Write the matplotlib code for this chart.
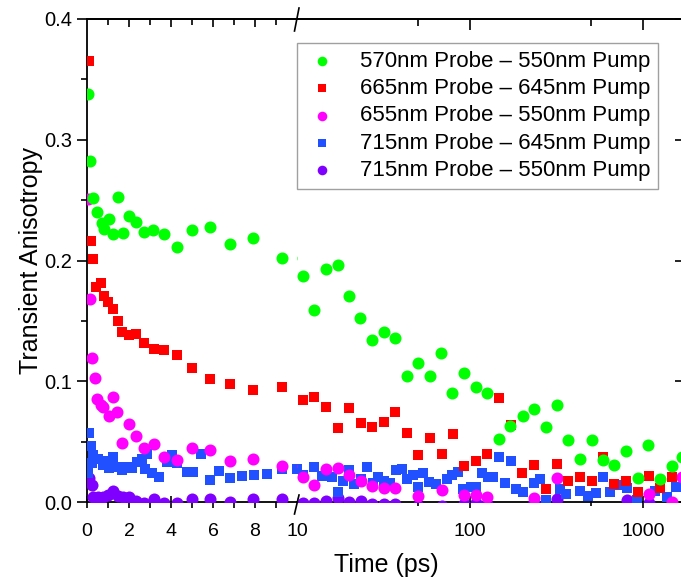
import matplotlib
matplotlib.use("Agg")
from matplotlib import pyplot as plt
from matplotlib.lines import Line2D
from matplotlib.ticker import FixedLocator, NullFormatter

plt.rcParams['font.family'] = ['Liberation Sans', 'DejaVu Sans']

##### Data (time in ps, anisotropy)
green_t = [0.06, 0.14, 0.30, 0.49, 0.70, 0.81, 1.06, 1.22, 1.49, 1.70, 2.00, 2.35, 2.71, 3.16, 3.68,
           4.27, 5.01, 5.86, 6.81, 7.92, 9.27, 10.8, 12.6, 14.7, 17.2, 20.0, 23.1, 27.0, 31.8, 36.9,
           43.0, 49.9, 58.7, 67.9, 79.0, 92.7, 108, 126, 147, 170, 202, 234, 274, 317, 370,
           432, 505, 585, 683, 798, 931, 1073, 1253, 1465, 1675]
green_y = [0.338, 0.282, 0.252, 0.240, 0.231, 0.226, 0.234, 0.222, 0.253, 0.223, 0.237, 0.232, 0.224, 0.225, 0.222,
           0.211, 0.225, 0.228, 0.214, 0.219, 0.202, 0.187, 0.159, 0.193, 0.196, 0.171, 0.152, 0.134, 0.1405, 0.1356,
           0.104, 0.115, 0.104, 0.123, 0.0905, 0.107, 0.095, 0.090, 0.052, 0.063, 0.0715, 0.077, 0.062, 0.080, 0.051,
           0.036, 0.051, 0.035, 0.031, 0.0425, 0.020, 0.047, 0.019, 0.030, 0.037]

red_t = [0.11, 0.19, 0.27, 0.43, 0.65, 0.81, 1.02, 1.25, 1.49, 1.68, 2.00, 2.33, 2.71, 3.19, 3.68,
         4.27, 5.01, 5.86, 6.81, 7.92, 9.27, 10.8, 12.5, 14.7, 17.2, 20.0, 23.3, 27.2, 31.8, 36.9,
         43.0, 50.2, 58.7, 68.6, 79.3, 92.2, 108, 125, 147, 172, 201, 234, 274, 317, 370,
         432, 505, 589, 683, 798, 931, 1083, 1253, 1465]
red_y = [0.365, 0.216, 0.201, 0.178, 0.181, 0.171, 0.166, 0.160, 0.150, 0.141, 0.138, 0.139, 0.132, 0.127, 0.126,
         0.122, 0.111, 0.102, 0.098, 0.093, 0.095, 0.0845, 0.087, 0.079, 0.061, 0.0776, 0.0657, 0.062, 0.0665, 0.0743,
         0.0574, 0.039, 0.0527, 0.0395, 0.056, 0.030, 0.034, 0.040, 0.086, 0.064, 0.024, 0.031, 0.0105, 0.0315, 0.0176,
         0.021, 0.0174, 0.037, 0.015, 0.017, 0.0085, 0.0215, 0.012, 0.021]

mag_t = [0.06, 0.14, 0.25, 0.38, 0.49, 0.65, 0.78, 1.06, 1.25, 1.44, 1.68, 2.00, 2.33, 2.71, 3.19,
         3.68, 4.27, 5.01, 5.86, 6.81, 7.92, 9.27, 10.8, 12.5, 14.7, 17.2, 20.0, 23.3, 27.2, 31.8,
         36.9, 50.2, 68.6, 92.2, 108, 125, 234, 317, 1083, 1465, 1690]
mag_y = [0.2507, 0.168, 0.119, 0.103, 0.085, 0.080, 0.079, 0.0715, 0.087, 0.0743, 0.049, 0.065, 0.055, 0.0445, 0.048,
         0.037, 0.035, 0.045, 0.043, 0.034, 0.036, 0.030, 0.021, 0.014, 0.027, 0.028, 0.022, 0.017, 0.013, 0.012,
         0.012, 0.005, 0.010, 0.006, 0.006, 0.004, 0.003, 0.0196, 0.007, 0.0, 0.021]

blue_t = [0.06, 0.11, 0.17, 0.22, 0.30, 0.54, 0.75, 0.94, 1.06, 1.25, 1.44, 1.65, 1.89, 2.13, 2.37,
          2.60, 2.76, 2.87, 3.08, 3.43, 3.80, 4.03, 4.27, 4.75, 5.06, 5.43, 5.86, 6.30, 6.81, 7.37,
          7.95, 8.59, 9.27, 9.98, 10.9, 12.5, 14.0, 15.9, 17.2, 18.5, 20.0, 21.4, 23.4, 25.3, 27.4,
          29.5, 31.9, 34.5, 37.3, 40.2, 43.0, 46.6, 50.2, 53.6, 58.1, 63.2, 73.3, 79.0, 85.5, 91.5,
          102, 109, 118, 127, 136, 147, 159, 172, 184, 203, 233, 254, 276, 330, 360,
          432, 481, 538, 589, 643, 734, 804, 919, 1172, 1370, 1560]
blue_y = [0.024, 0.057, 0.046, 0.032, 0.039, 0.036, 0.031, 0.034, 0.028, 0.037, 0.029, 0.0265, 0.029, 0.028, 0.033,
          0.036, 0.027, 0.040, 0.024, 0.021, 0.033, 0.039, 0.032, 0.025, 0.025, 0.0395, 0.018, 0.026, 0.020, 0.0215,
          0.0225, 0.023, 0.027, 0.027, 0.022, 0.029, 0.0215, 0.021, 0.0085, 0.017, 0.0265, 0.015, 0.019, 0.029, 0.016,
          0.021, 0.0176, 0.0155, 0.0265, 0.027, 0.019, 0.0224, 0.0127, 0.0238, 0.0168, 0.015, 0.019, 0.0224, 0.025, 0.011,
          0.0127, 0.0127, 0.024, 0.0205, 0.021, 0.0375, 0.0155, 0.034, 0.011, 0.0085, 0.0155, 0.019, 0.002, 0.011, 0.007,
          0.0094, 0.005, 0.0077, 0.0205, 0.0085, 0.014, 0.012, 0.002, 0.0094, 0.004, 0.0127]

vio_t = [0.11, 0.22, 0.30, 0.54, 0.78, 1.02, 1.25, 1.49, 1.73, 2.00, 2.33, 2.71, 3.19, 3.68, 4.27,
         5.01, 5.86, 6.81, 7.92, 9.27, 10.8, 12.5, 14.7, 17.2, 20.0, 23.3, 27.2, 31.8, 36.9, 50.2,
         68.6, 92.2, 108, 125, 233, 317, 805, 1083, 1465]
vio_y = [0.0196, 0.014, 0.0044, 0.004, 0.0044, 0.0058, 0.0094, 0.005, 0.0044, 0.0039, 0.0005, -0.001, 0.0022, -0.0005, -0.001,
         0.0022, 0.0022, 0.0, 0.0022, 0.0022, -0.001, -0.001, 0.001, 0.003, 0.0003, 0.0008, -0.002, -0.002, -0.002, -0.003,
         -0.003, -0.002, -0.001, -0.002, 0.0, 0.0025, 0.0017, -0.0005, -0.002]

labels = ['570nm Probe \u2013 550nm Pump', '665nm Probe \u2013 645nm Pump', '655nm Probe \u2013 550nm Pump',
          '715nm Probe \u2013 645nm Pump', '715nm Probe \u2013 550nm Pump']

##### Figure with a broken x axis: linear 0-10, then log 10-~1700
W, H = 681, 579
fig = plt.figure(figsize=(W / 100, H / 100), dpi=100)
ax1 = fig.add_axes([87 / W, 77 / H, 210 / W, 483 / H])        # linear part
ax2 = fig.add_axes([297 / W, 77 / H, 385.5 / W, 483 / H])     # log part

series = [(green_t, green_y, '#00FF00', 'o', 75),
          (red_t, red_y, '#FF0000', 's', 60),
          (mag_t, mag_y, '#FF00FF', 'o', 75),
          (blue_t, blue_y, '#2050FF', 's', 60),
          (vio_t, vio_y, '#8000FF', 'o', 75)]

for ax in (ax1, ax2):
    for i, (t, y, c, m, s) in reversed(list(enumerate(series))):   # green ends up on top
        ax.scatter(t, y, c=c, marker=m, s=s, linewidths=0, zorder=3 + (5 - i), label=labels[i])
    ax.set_ylim(0, 0.4)
    for sp in ax.spines.values():
        sp.set_linewidth(1.3)

# linear axis (bottom ticks + labels)
ax1.set_xlim(0, 10)
ax1.spines['right'].set_visible(False)
ax1.set_xticks([0, 2, 4, 6, 8])
ax1.set_xticklabels(['0', '2', '4', '6', '8'])
ax1.xaxis.set_minor_locator(FixedLocator([1, 3, 5, 7, 9]))
ax1.set_yticks([0, 0.1, 0.2, 0.3, 0.4])
ax1.set_yticklabels(['0.0', '0.1', '0.2', '0.3', '0.4'])
ax1.yaxis.set_minor_locator(FixedLocator([0.05, 0.15, 0.25, 0.35]))
ax1.tick_params(axis='x', which='major', direction='inout', length=8, width=1.2, labelsize=14, pad=11)
ax1.tick_params(axis='x', which='minor', direction='out', length=4, width=1.2)
ax1.tick_params(axis='y', which='major', direction='out', length=7, width=1.2, labelsize=14.5)
ax1.tick_params(axis='y', which='minor', direction='out', length=4, width=1.2)
ax1.set_ylabel('Transient Anisotropy', fontsize=18, labelpad=1)

# top ticks of linear part point inward
top1 = ax1.secondary_xaxis('top')
top1.set_xticks([2, 4, 6, 8])
top1.xaxis.set_minor_locator(FixedLocator([1, 3, 5, 7, 9]))
top1.tick_params(which='major', direction='in', length=6, width=1.2, labeltop=False)
top1.tick_params(which='minor', direction='in', length=4, width=1.2)
top1.spines['top'].set_linewidth(1.3)

# log axis
ax2.set_xscale('log')
ax2.set_xlim(10, 1692)
ax2.spines['left'].set_visible(False)
ax2.set_xticks([10, 100, 1000])
ax2.set_xticklabels(['10', '100', '1000'])
ax2.xaxis.set_minor_locator(FixedLocator([50, 500]))
ax2.xaxis.set_minor_formatter(NullFormatter())
ax2.tick_params(axis='x', which='major', direction='inout', length=8, width=1.2, labelsize=14, pad=11)
ax2.tick_params(axis='x', which='minor', direction='inout', length=6, width=1.2)
ax2.xaxis.get_major_ticks()[0].tick1line.set_visible(False)
ax2.set_yticks([0, 0.1, 0.2, 0.3, 0.4])
ax2.tick_params(axis='y', which='both', left=False, right=True, labelleft=False,
                direction='in', length=5, width=1.2)
ax2.yaxis.set_minor_locator(FixedLocator([]))

top2 = ax2.secondary_xaxis('top')
top2.set_xticks([100, 1000])
top2.xaxis.set_minor_locator(FixedLocator([50, 500]))
top2.xaxis.set_minor_formatter(NullFormatter())
top2.tick_params(which='major', direction='in', length=8, width=1.2, labeltop=False)
top2.tick_params(which='minor', direction='in', length=5, width=1.2)
top2.spines['top'].set_linewidth(1.3)

# break marks "/" on top and bottom spines
for y0, y1 in [(514, 495), (31, 8)]:
    fig.add_artist(Line2D([294.5 / W, 299 / W], [1 - y0 / H, 1 - y1 / H], color='black', lw=1.2))

fig.text(386 / W, 1 - 565 / H, 'Time (ps)', ha='center', va='center', fontsize=18)

handles, labs = ax2.get_legend_handles_labels()
order = [labs.index(l) for l in labels]
leg = ax2.legend([handles[k] for k in order], labels, loc='upper right',
                 bbox_to_anchor=(0.9375, 0.950), borderaxespad=0, fontsize=16,
                 markerscale=0.8, frameon=True, fancybox=False, labelspacing=0.28,
                 handletextpad=0.9, borderpad=0.35, handlelength=1.6)
leg.get_frame().set_edgecolor('#888888')
leg.get_frame().set_linewidth(1.0)

plt.savefig('out.png', dpi=100)
